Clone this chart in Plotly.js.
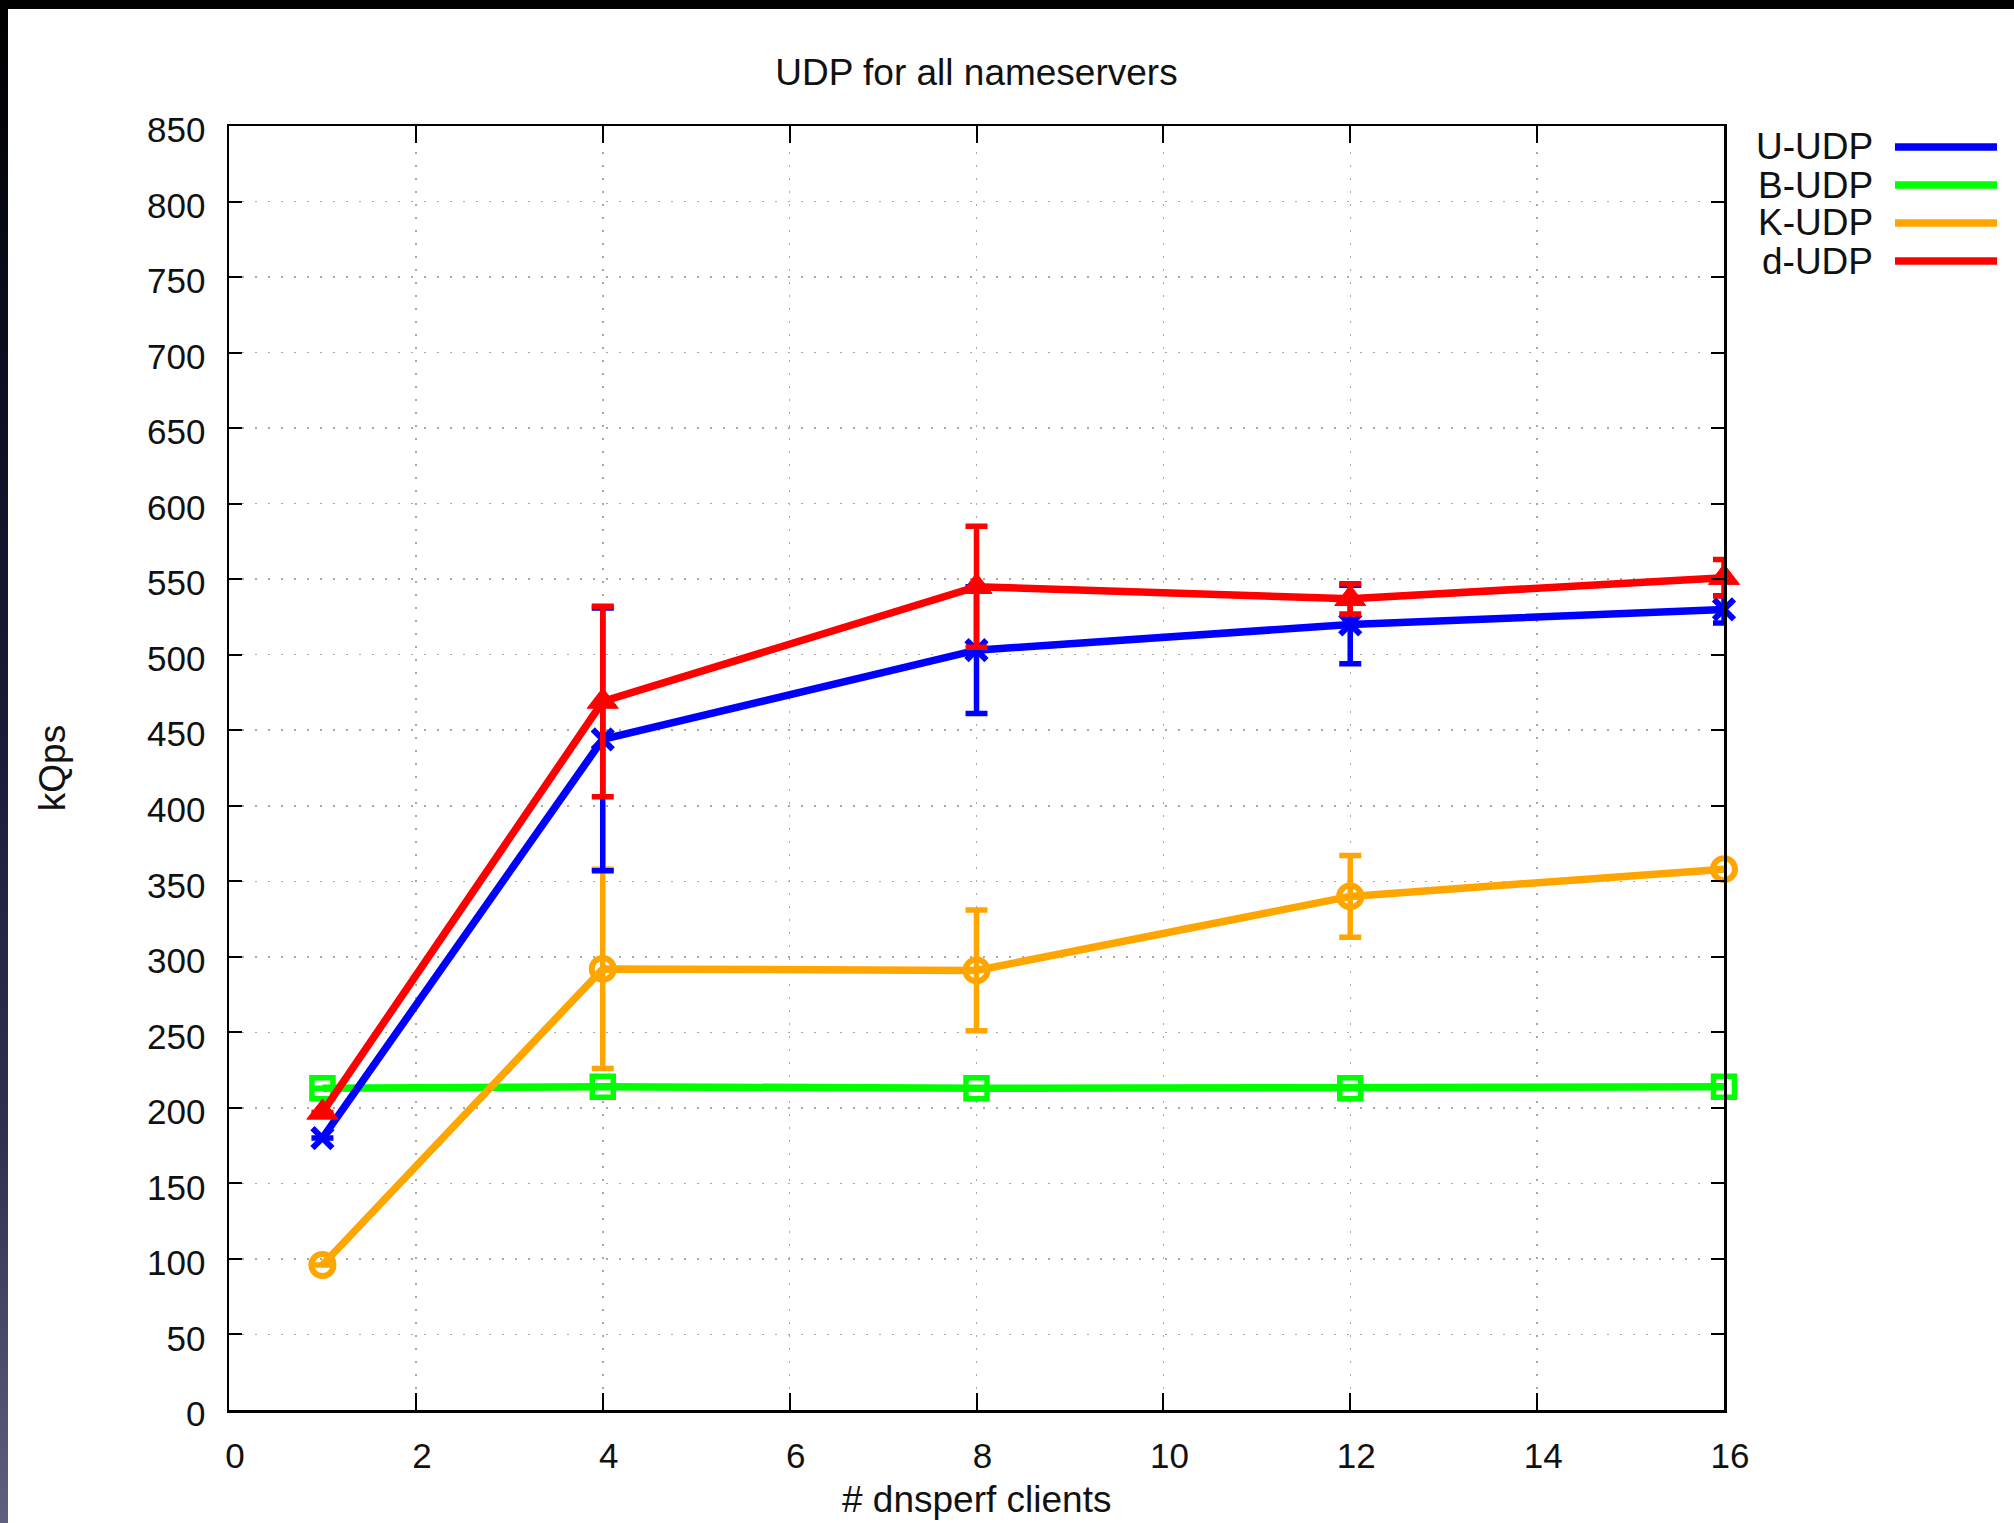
<!DOCTYPE html>
<html>
<head>
<meta charset="utf-8">
<script src="https://cdn.plot.ly/plotly-3.0.1.min.js"></script>
<style>
  html, body { margin: 0; padding: 0; width: 2014px; height: 1523px; overflow: hidden; }
  body { background: #000; position: relative; }
  #leftband { position: absolute; left: 0; top: 0; width: 8px; height: 1523px;
    background: linear-gradient(to bottom, #000 0%, #0c0f22 25%, #1a1d3a 50%, #2f3152 75%, #5f6080 100%); }
  #chart { position: absolute; left: 8px; top: 9px; width: 2006px; height: 1514px; background: #fff; }
</style>
</head>
<body>
<div id="leftband"></div>
<div id="chart"></div>
<script>
// ---- data ----
const clients = [1, 4, 8, 12, 16];

const seriesNames = ["U-UDP", "B-UDP", "K-UDP", "d-UDP"];

const uUdp    = [180, 444, 503, 520, 530];
const uUdpErr = [0, 87, 42, 26, 9];

const bUdp    = [213, 214, 213, 213, 214];
const bUdpErr = [0, 0, 0, 0, 0];

const kUdp    = [96, 292, 291, 340, 358];
const kUdpErr = [0, 66, 40, 27, 0];

const dUdp    = [197, 469, 545, 537, 551];
const dUdpErr = [0, 63, 40, 10, 12];

const xTicks = [0, 2, 4, 6, 8, 10, 12, 14, 16];
const yTicks = [0, 50, 100, 150, 200, 250, 300, 350, 400, 450, 500, 550, 600, 650, 700, 750, 800, 850];

const xTitle = "# dnsperf clients";
const yTitle = "kQps";
const chartTitle = "UDP for all nameservers";

// ---- styling ----
const colors = {"U-UDP": "#0000ff", "B-UDP": "#00ff00", "K-UDP": "#ffa500", "d-UDP": "#ff0000"};
const FONT = "Liberation Sans, Arial, sans-serif";

function mkTrace(name, y, err, symbol, msize, filled, mlw) {
  const c = colors[name];
  return {
    type: "scatter", mode: "lines+markers", name: name,
    x: clients, y: y, cliponaxis: false,
    line: {color: c, width: 7.5},
    marker: filled
      ? {symbol: symbol, size: msize, color: c, line: {color: c, width: 1}}
      : {symbol: symbol, size: msize, color: c, line: {color: c, width: mlw}},
    error_y: {type: "data", array: err, visible: true, color: c, thickness: 5.5, width: 11},
    showlegend: false
  };
}

const traces = [
  mkTrace("B-UDP", bUdp, bUdpErr, "square-open", 21, false, 5.5),
  mkTrace("K-UDP", kUdp, kUdpErr, "circle-open", 22, false, 6),
  mkTrace("U-UDP", uUdp, uUdpErr, "x-thin", 20, false, 6),
  mkTrace("d-UDP", dUdp, dUdpErr, "triangle-up", 27, true, 1)
];

// ---- gnuplot-style legend (text, then line sample) ----
const plotL = 221, plotT = 117, plotW = 1495, plotH = 1284; // px within chart div
function px2paperX(px) { return (px - 8 - plotL) / plotW; }
function px2paperY(py) { return 1 - (py - 9 - plotT) / plotH; }
const legendTextRight = 1875, legendLineX0 = 1895, legendLineX1 = 1997, legendTop = 147, legendStep = 38;

const annotations = [], shapes = [];
seriesNames.forEach((n, i) => {
  const yy = px2paperY(legendTop + i * legendStep);
  annotations.push({
    xref: "paper", yref: "paper", x: px2paperX(legendTextRight), y: yy,
    xanchor: "right", yanchor: "middle", showarrow: false, text: n,
    font: {family: FONT, size: 37, color: "#111"}
  });
  shapes.push({
    type: "line", xref: "paper", yref: "paper",
    x0: px2paperX(legendLineX0), x1: px2paperX(legendLineX1), y0: yy, y1: yy,
    line: {color: colors[n], width: 7.5}
  });
});
// x-axis title, placed near the bottom edge as in the reference
annotations.push({
  xref: "paper", yref: "paper", x: 0.5, y: px2paperY(1499),
  xanchor: "center", yanchor: "middle", showarrow: false, text: xTitle,
  font: {family: FONT, size: 37, color: "#111"}
});

const axisCommon = {
  showline: true, linecolor: "#000", linewidth: 2.5, mirror: "ticks",
  ticks: "inside", tickcolor: "#000", tickwidth: 2,
  showgrid: true, gridcolor: "#a8a8a8", gridwidth: 1.5, griddash: "2px,11px",
  zeroline: false,
  tickfont: {family: FONT, size: 35, color: "#111"}
};

const layout = {
  width: 2006, height: 1514,
  margin: {l: plotL, r: 2006 - plotL - plotW, t: plotT, b: 1514 - plotT - plotH},
  paper_bgcolor: "#fff", plot_bgcolor: "#fff",
  font: {family: FONT, color: "#111"},
  title: {text: chartTitle, font: {family: FONT, size: 37, color: "#111"},
          x: 0.5, xref: "paper", y: 1 - 63 / 1514, yref: "container", yanchor: "middle"},
  xaxis: Object.assign({}, axisCommon, {
    range: [0, 16], tickvals: xTicks, ticktext: xTicks.map(String), ticklen: 17,
    ticklabelstandoff: 13, ticklabelshift: 6
  }),
  yaxis: Object.assign({}, axisCommon, {
    range: [0, 850], tickvals: yTicks, ticktext: yTicks.map(String), ticklen: 13,
    ticklabelstandoff: 14, ticklabelshift: 4,
    title: {text: yTitle, font: {family: FONT, size: 37, color: "#111"}, standoff: 70}
  }),
  showlegend: false,
  annotations: annotations,
  shapes: shapes
};

Plotly.newPlot("chart", traces, layout, {displayModeBar: false, staticPlot: true});
</script>
</body>
</html>
